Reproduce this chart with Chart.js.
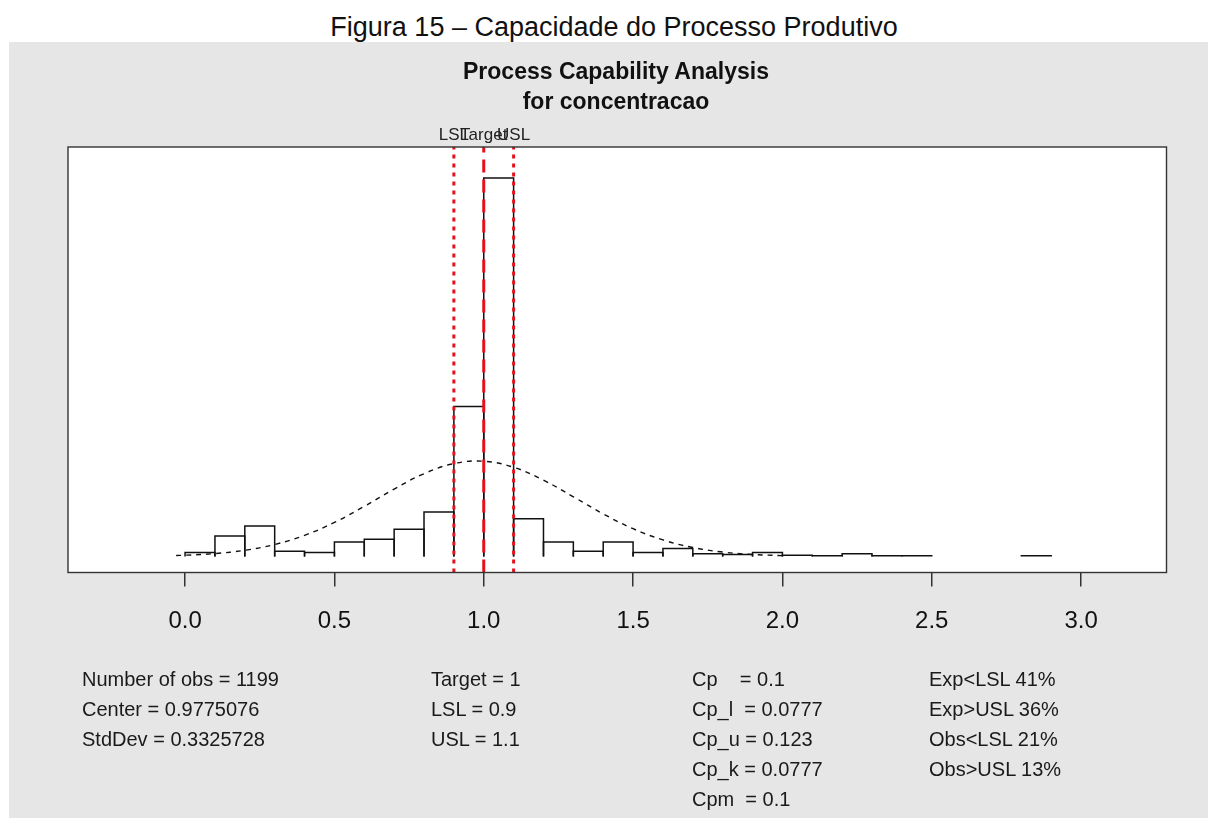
<!DOCTYPE html>
<html>
<head>
<meta charset="utf-8">
<script src="https://cdn.jsdelivr.net/npm/chart.js@4.4.1/dist/chart.umd.min.js"></script>
<style>
  html, body { margin: 0; padding: 0; background: #fff; }
  body { width: 1208px; height: 818px; position: relative; overflow: hidden;
         font-family: "Liberation Sans", Arial, sans-serif; color: #111; }
  #caption { position: absolute; left: 0; width: 1228px; top: 11px; text-align: center;
             font-size: 27px; line-height: 32px; }
  #panel { position: absolute; left: 9px; top: 42px; width: 1199px; height: 776px; background: #e6e6e6; }
  #chartBox { position: absolute; left: 0; top: 0; width: 1199px; height: 776px; }
  .title { position: absolute; left: 0; width: 1214px; text-align: center; font-weight: bold;
           font-size: 23px; line-height: 30px; }
  .stats { position: absolute; top: 622px; font-size: 20px; line-height: 30px; white-space: pre; color: #1a1a1a; }
</style>
</head>
<body>
<div id="caption">Figura 15 – Capacidade do Processo Produtivo</div>
<div id="panel">
  <div id="chartBox"><canvas id="capChart"></canvas></div>
  <div class="title" style="top:14px">Process Capability Analysis</div>
  <div class="title" style="top:44px">for concentracao</div>
  <div class="stats" id="col1" style="left:73px"></div>
  <div class="stats" id="col2" style="left:422px"></div>
  <div class="stats" id="col3" style="left:683px"></div>
  <div class="stats" id="col4" style="left:920px"></div>
</div>
<script>
// histogram bins (lower edge) and observation counts, width 0.1
var binStart = [0.0, 0.1, 0.2, 0.3, 0.4, 0.5, 0.6, 0.7, 0.8, 0.9, 1.0, 1.1, 1.2, 1.3, 1.4,
                1.5, 1.6, 1.7, 1.8, 1.9, 2.0, 2.1, 2.2, 2.3, 2.4, 2.5, 2.6, 2.7, 2.8];
var binCounts = [6, 31, 46, 8, 6, 22, 26, 41, 67, 226, 570, 57, 22, 8, 22,
                 6, 12, 4, 3, 6, 2, 1, 4, 1, 1, 0, 0, 0, 1];
var binWidth = 0.1;
var nObs = 1199;

// fitted normal density
var curveX = [-0.03, 0.0, 0.1, 0.2, 0.3, 0.4, 0.5, 0.6, 0.7, 0.8, 0.9, 1.0,
              1.1, 1.2, 1.3, 1.4, 1.5, 1.6, 1.7, 1.8, 1.9, 2.0];
var curveY = [0.012, 0.016, 0.037, 0.078, 0.151, 0.266, 0.428, 0.630, 0.847, 1.040, 1.167, 1.197,
              1.121, 0.959, 0.750, 0.535, 0.349, 0.208, 0.113, 0.056, 0.026, 0.011];

// spec limits
var specLabels = ['LSL', 'Target', 'USL'];
var specValues = [0.9, 1.0, 1.1];

var xTicks = [0.0, 0.5, 1.0, 1.5, 2.0, 2.5, 3.0];
var xMin = -0.392, xMax = 3.286;
var yMin = -0.201, yMax = 5.144;

var statsCol1 = ['Number of obs = 1199', 'Center = 0.9775076', 'StdDev = 0.3325728'];
var statsCol2 = ['Target = 1', 'LSL = 0.9', 'USL = 1.1'];
var statsCol3 = ['Cp    = 0.1', 'Cp_l  = 0.0777', 'Cp_u = 0.123', 'Cp_k = 0.0777', 'Cpm  = 0.1'];
var statsCol4 = ['Exp<LSL 41%', 'Exp>USL 36%', 'Obs<LSL 21%', 'Obs>USL 13%'];

document.getElementById('col1').textContent = statsCol1.join('\n');
document.getElementById('col2').textContent = statsCol2.join('\n');
document.getElementById('col3').textContent = statsCol3.join('\n');
document.getElementById('col4').textContent = statsCol4.join('\n');

var histData = binStart.map(function (b, i) {
  return { x: b + binWidth / 2, y: binCounts[i] / (nObs * binWidth) };
});
var curveData = curveX.map(function (x, i) { return { x: x, y: curveY[i] }; });

var datasets = [
  {
    type: 'bar',
    data: histData,
    backgroundColor: '#ffffff',
    borderWidth: 0,
    barPercentage: 1,
    categoryPercentage: 1,
    order: 3
  },
  {
    type: 'line',
    data: curveData,
    borderColor: '#111',
    borderWidth: 1.4,
    borderDash: [5, 5],
    pointRadius: 0,
    tension: 0.4,
    fill: false,
    order: 2
  }
];
specValues.forEach(function (v, i) {
  datasets.push({
    type: 'line',
    data: [{ x: v, y: yMin }, { x: v, y: yMax }],
    borderColor: '#e3121c',
    borderWidth: 3,
    borderDash: i === 1 ? [13, 7] : [4, 5],
    pointRadius: 0,
    fill: false,
    order: 1
  });
});

// white plotting region, bar outlines, frame and the spec labels above it
var frame = {
  id: 'frame',
  beforeDraw: function (chart) {
    var a = chart.chartArea, ctx = chart.ctx;
    ctx.save();
    ctx.fillStyle = '#fff';
    ctx.fillRect(a.left, a.top, a.right - a.left, a.bottom - a.top);
    ctx.restore();
  },
  afterDatasetDraw: function (chart, args) {
    if (args.index !== 0) return;
    var ctx = chart.ctx;
    ctx.save();
    ctx.strokeStyle = '#111';
    ctx.lineWidth = 1.5;
    args.meta.data.forEach(function (bar, i) {
      if (!binCounts[i]) return;
      var p = bar.getProps(['x', 'y', 'base', 'width'], true);
      var l = p.x - p.width / 2, r = p.x + p.width / 2;
      ctx.beginPath();
      ctx.moveTo(l, p.base);
      ctx.lineTo(l, p.y);
      ctx.lineTo(r, p.y);
      ctx.lineTo(r, p.base);
      ctx.stroke();
    });
    ctx.restore();
  },
  afterDraw: function (chart) {
    var a = chart.chartArea, ctx = chart.ctx, xs = chart.scales.x;
    ctx.save();
    ctx.strokeStyle = '#333';
    ctx.lineWidth = 1.4;
    ctx.strokeRect(a.left, a.top, a.right - a.left, a.bottom - a.top);
    ctx.fillStyle = '#222';
    ctx.font = '17px "Liberation Sans", Arial, sans-serif';
    ctx.textAlign = 'center';
    ctx.textBaseline = 'middle';
    specValues.forEach(function (v, i) {
      ctx.fillText(specLabels[i], xs.getPixelForValue(v), a.top - 12);
    });
    ctx.restore();
  }
};

new Chart(document.getElementById('capChart'), {
  type: 'bar',
  data: { datasets: datasets },
  plugins: [frame],
  options: {
    responsive: true,
    maintainAspectRatio: false,
    animation: false,
    layout: { padding: { left: 59, top: 105, right: 41.5, bottom: 185.5 } },
    plugins: { legend: { display: false }, tooltip: { enabled: false }, title: { display: false } },
    scales: {
      x: {
        type: 'linear',
        min: xMin,
        max: xMax,
        offset: false,
        afterBuildTicks: function (scale) {
          scale.ticks = xTicks.map(function (v) { return { value: v }; });
        },
        afterFit: function (scale) { scale.height = 60; },
        border: { display: false },
        grid: { offset: false, drawOnChartArea: false, drawTicks: true, tickLength: 14, color: '#333', lineWidth: 1.5 },
        ticks: {
          maxRotation: 0,
          autoSkip: false,
          padding: 20,
          color: '#111',
          font: { family: '"Liberation Sans", Arial, sans-serif', size: 24 },
          callback: function (v) { return Number(v).toFixed(1); }
        }
      },
      y: {
        display: false,
        min: yMin,
        max: yMax
      }
    }
  }
});
</script>
</body>
</html>
